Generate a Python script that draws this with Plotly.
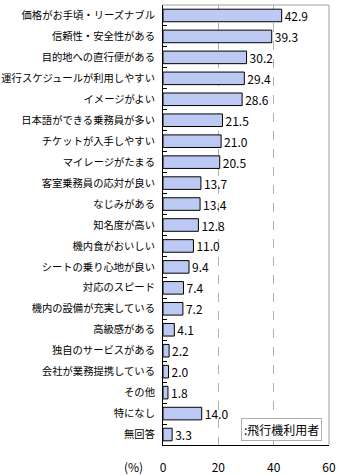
import plotly.graph_objects as go

categories = ["価格がお手頃・リーズナブル", "信頼性・安全性がある", "目的地への直行便がある",
              "運行スケジュールが利用しやすい", "イメージがよい", "日本語ができる乗務員が多い",
              "チケットが入手しやすい", "マイレージがたまる", "客室乗務員の応対が良い",
              "なじみがある", "知名度が高い", "機内食がおいしい", "シートの乗り心地が良い",
              "対応のスピード", "機内の設備が充実している", "高級感がある", "独自のサービスがある",
              "会社が業務提携している", "その他", "特になし", "無回答"]
values = [42.9, 39.3, 30.2, 29.4, 28.6, 21.5, 21.0, 20.5, 13.7, 13.4, 12.8, 11.0, 9.4,
          7.4, 7.2, 4.1, 2.2, 2.0, 1.8, 14.0, 3.3]
x_ticks = [0, 20, 40, 60]
series_name = "飛行機利用者"

FONT = "Noto Sans CJK JP"

fig = go.Figure()
fig.add_trace(go.Bar(
    x=values, y=categories, orientation="h", name=series_name,
    marker=dict(color="#bccaf3", line=dict(color="#000000", width=1)),
    width=0.6,
    text=[f"{v:.1f}" for v in values], textposition="outside",
    textfont=dict(family=FONT, size=12, color="#000000"),
    constraintext="none",
    cliponaxis=False,
))

fig.update_layout(
    width=340, height=475,
    margin=dict(l=163, r=11, t=5, b=30, autoexpand=False),
    plot_bgcolor="white", paper_bgcolor="white",
    showlegend=False,
    font=dict(family=FONT, size=11, color="#000000"),
    bargap=0.4,
)
fig.update_xaxes(
    range=[0, 60], tickvals=x_ticks, ticktext=[str(t) for t in x_ticks],
    showgrid=True, gridcolor="#b0b0b0", griddash="dash", gridwidth=1,
    showline=True, linecolor="#000000", linewidth=1, mirror=False, automargin=False,
    ticks="", ticklabelstandoff=12, tickfont=dict(family=FONT, size=12), zeroline=False,
)
fig.update_yaxes(
    autorange="reversed", tickson="boundaries", ticks="inside", ticklen=4,
    tickcolor="#000000", showline=True, linecolor="#000000", linewidth=1, automargin=False,
    showgrid=False, ticklabelstandoff=5, tickfont=dict(family=FONT, size=10.3),
)
# plot border (top/right) in gray
fig.add_shape(type="line", xref="paper", yref="paper", x0=0, x1=1, y0=1, y1=1,
              line=dict(color="#a0a0a0", width=1))
fig.add_shape(type="line", xref="paper", yref="paper", x0=1, x1=1, y0=0, y1=1,
              line=dict(color="#a0a0a0", width=1))
fig.add_annotation(xref="paper", yref="paper", x=-0.11, y=0, yshift=-21,
                   text="(%)", showarrow=False, xanchor="right", yanchor="middle",
                   font=dict(family=FONT, size=12))
fig.add_annotation(xref="paper", yref="paper", x=0.96, y=0.01,
                   text=":" + series_name, showarrow=False, xanchor="right", yanchor="bottom",
                   bordercolor="#b0b0b0", borderwidth=1, borderpad=2, bgcolor="white",
                   font=dict(family=FONT, size=12))

fig.write_html("out.html")
